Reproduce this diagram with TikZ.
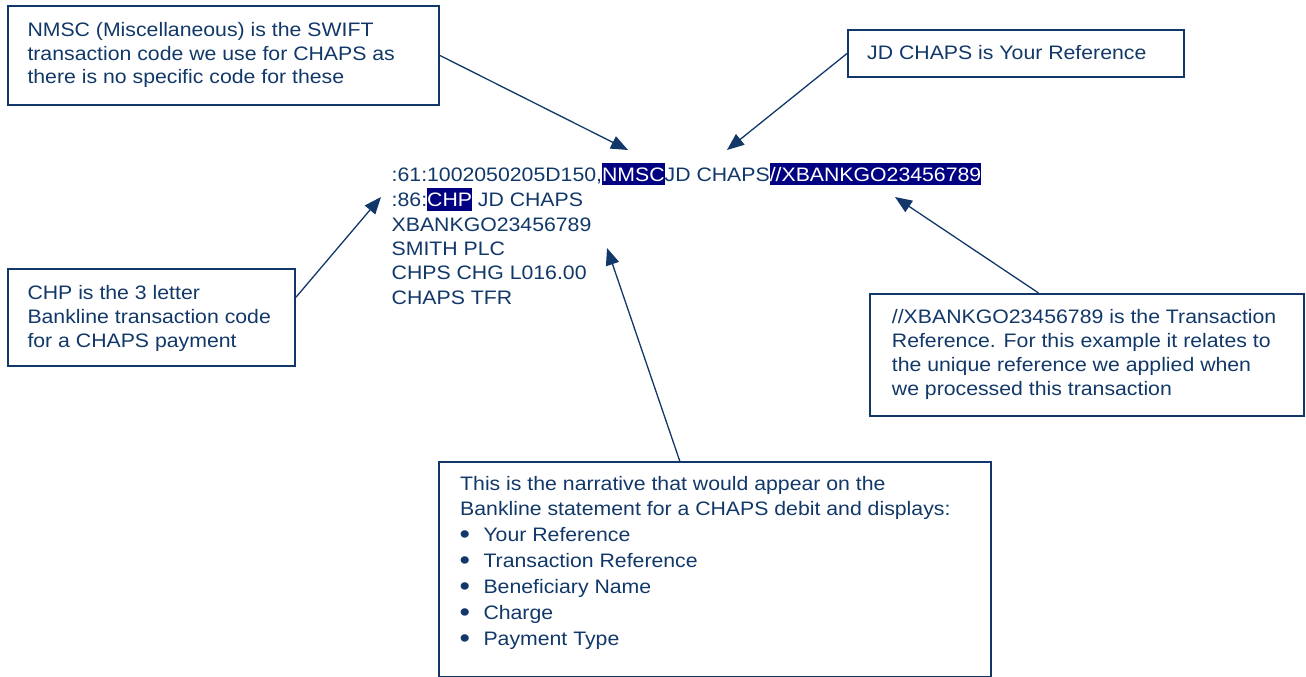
\documentclass[tikz,border=0pt]{standalone}
\usepackage{fontspec}
\usepackage{graphicx}
\setmainfont{Liberation Sans}[FakeStretch=1.09]
\usetikzlibrary{arrows.meta}
\definecolor{ink}{RGB}{17,56,104}
\definecolor{hlnavy}{RGB}{0,0,128}
\newcommand\hlt[1]{{\setlength\fboxsep{0pt}\colorbox{hlnavy}{\rule[-4.3pt]{0pt}{22.7pt}\textcolor{white}{#1}}}}
\newcommand\bul{\makebox[23.3pt][l]{\hspace{-0.5pt}\raisebox{-2.6pt}{\scalebox{1.4}{•}}}}
\tikzset{
  box/.style={draw=ink, line width=2pt, anchor=north west, inner sep=0pt},
  txt/.style={anchor=base west, inner sep=0pt, text=ink, font=\fontsize{19.5}{24.4}\selectfont},
  conn/.style={draw=ink, line width=1.3pt, -{Triangle[length=17pt,width=13.5pt]}},
}
\begin{document}
\begin{tikzpicture}[x=1pt,y=-1pt]
\useasboundingbox (0,0) rectangle (1306,677);
% boxes
\node[box, minimum width=431pt, minimum height=99pt] (b1) at (7,5) {};
\node[box, minimum width=336pt, minimum height=47pt] (b2) at (847,29) {};
\node[box, minimum width=287pt, minimum height=97pt] (b3) at (7,268) {};
\node[box, minimum width=434pt, minimum height=122pt] (b4) at (869,293) {};
\node[box, minimum width=552pt, minimum height=215pt] (b5) at (438,461) {};
% texts
\node[txt, font=\fontsize{19.5}{23.4}\selectfont] (t1) at (27.3,36.7) {\begin{tabular}[t]{@{}l@{}}NMSC (Miscellaneous) is the SWIFT\\transaction code we use for CHAPS as\\there is no specific code for these\end{tabular}};
\node[txt] (t2) at (867,59.3) {JD CHAPS is Your Reference};
\node[txt] (t3) at (27.3,299) {\begin{tabular}[t]{@{}l@{}}CHP is the 3 letter\\Bankline transaction code\\for a CHAPS payment\end{tabular}};
\node[txt, font=\fontsize{19.5}{24}\selectfont] (t4) at (891.7,323) {\begin{tabular}[t]{@{}l@{}}//XBANKGO23456789 is the Transaction\\Reference. For this example it relates to\\the unique reference we applied when\\we processed this transaction\end{tabular}};
\node[txt, font=\fontsize{19.5}{24.3}\selectfont] (t5) at (460,490.7) {\begin{tabular}[t]{@{}l@{}}This is the narrative that would appear on the\\Bankline statement for a CHAPS debit and displays:\\[1.7pt]\bul Your Reference\\[1.7pt]\bul Transaction Reference\\[1.7pt]\bul Beneficiary Name\\[1.7pt]\bul Charge\\[1.7pt]\bul Payment Type\end{tabular}};
\node[txt] (msg) at (391.5,181) {\begin{tabular}[t]{@{}l@{}}:61:1002050205D150,\hlt{NMSC}JD CHAPS\hlt{//XBANKGO23456789}\\:86:\hlt{CHP} JD CHAPS\\XBANKGO23456789\\SMITH PLC\\CHPS CHG L016.00\\CHAPS TFR\end{tabular}};
% arrow targets
\coordinate (p1) at (628,150);
\coordinate (p2) at (727,150);
\coordinate (p3) at (381,197);
\coordinate (p4) at (895,197);
\coordinate (p5) at (607,248);
% connectors
\draw[conn] (b1.east) -- (p1);
\draw[conn] (b2.west) -- (p2);
\draw[conn] (b3.8) -- (p3);
\draw[conn] (b4.128) -- (p4);
\draw[conn] (b5.108.5) -- (p5);
\end{tikzpicture}
\end{document}
